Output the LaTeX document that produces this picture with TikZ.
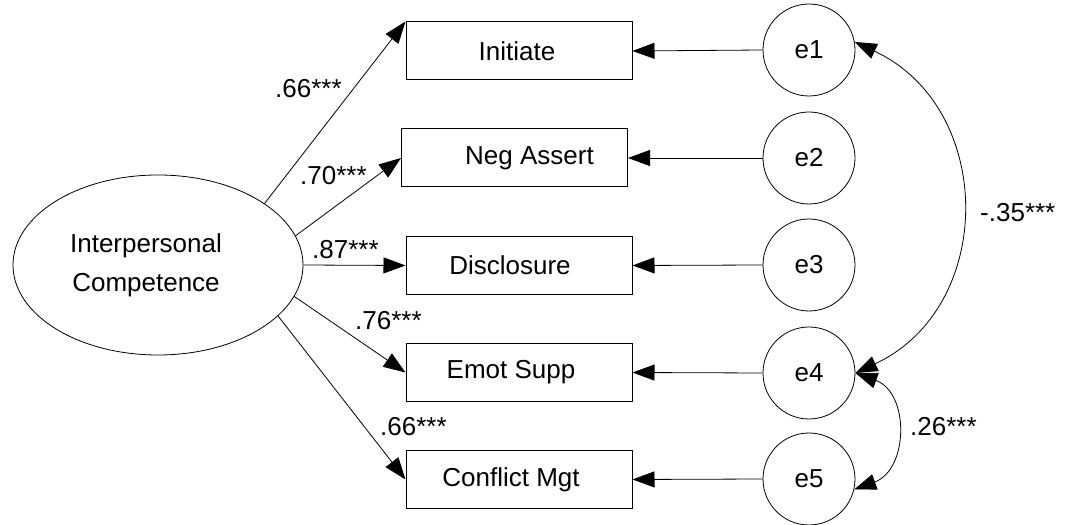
\documentclass[tikz,border=0pt]{standalone}
\usepackage{fontspec}
\setmainfont{Liberation Sans}
\usetikzlibrary{arrows.meta,shapes.geometric}

\begin{document}
\begin{tikzpicture}[x=1pt,y=1pt,
  every node/.style={font=\fontsize{26}{39}\selectfont},
  lat/.style={draw, ellipse, minimum width=290pt, minimum height=180pt, inner sep=0pt, line width=0.8pt},
  obs/.style={draw, rectangle, minimum width=226pt, minimum height=58pt, inner sep=0pt, line width=1pt},
  err/.style={draw, circle, minimum size=92pt, inner sep=0pt, line width=0.8pt},
  tip/.style={Triangle[length=22pt,width=16pt]},
  load/.style={line width=0.8pt, -{Triangle[length=22pt,width=16pt]}},
  cov/.style={line width=0.8pt, {Triangle[length=22pt,width=16pt]}-{Triangle[length=22pt,width=16pt]}},
  coef/.style={anchor=base west, inner sep=0pt}
]
\useasboundingbox (0,0) rectangle (1069,525);

% latent factor
\node[lat, label={[align=center, xshift=-12pt]center:Interpersonal\\Competence}] (ic) at (158,260) {};

% indicators
\node[obs, label={[xshift=-2pt]center:Initiate}]       (ini) at (519,474) {};
\node[obs, label={[xshift=15pt]center:Neg Assert}]     (neg) at (514.5,367) {};
\node[obs, label={[xshift=-9pt]center:Disclosure}]     (dis) at (519,259.5) {};
\node[obs, label={[xshift=-8pt]center:Emot Supp}]      (emo) at (519,152.5) {};
\node[obs, label={[xshift=-8pt]center:Conflict Mgt}]   (con) at (519,45.5) {};

% residuals
\node[err] (e1) at (809,475) {e1};
\node[err] (e2) at (809,367) {e2};
\node[err] (e3) at (809,260) {e3};
\node[err] (e4) at (809,152) {e4};
\node[err] (e5) at (809,46)  {e5};

% factor loadings
\draw[load] (ic.30)  -- (ini.north west);
\draw[load] (ic.12)  -- (neg.west);
\draw[load] (ic.0)   -- (dis.west);
\draw[load] (ic.-13) -- (emo.west);
\draw[load] (ic.-23) -- (con.west);

\node[coef] (l1) at (275,427) {.66***};
\node[coef] (l2) at (300,340) {.70***};
\node[coef] (l3) at (312,266) {.87***};
\node[coef] (l4) at (355,195) {.76***};
\node[coef] (l5) at (380,89)  {.66***};

% residual paths
\draw[load] (e1.west) -- (ini.east);
\draw[load] (e2.west) -- (neg.east);
\draw[load] (e3.west) -- (dis.east);
\draw[load] (e4.west) -- (emo.east);
\draw[load] (e5.west) -- (con.east);

% residual covariances
\draw[cov] (e4.east) to[out=25, in=-25, looseness=1.2] (e1.10);
\draw[cov] (e4.east) to[out=-20, in=20, looseness=1.27] (e5.-13);

\node[coef] (c1) at (980,303) {-.35***};
\node[coef] (c2) at (910,89)  {.26***};
\end{tikzpicture}
\end{document}
